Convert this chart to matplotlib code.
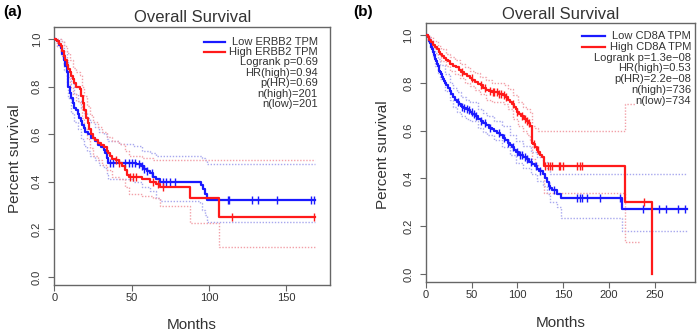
import numpy as np
import matplotlib.pyplot as plt

plt.rcParams['font.family'] = ['Liberation Sans', 'DejaVu Sans']

# ---- panel (a): ERBB2 ----
a_red_t = [0, 1, 2, 3, 4, 5, 6, 7, 8, 9, 10, 11, 12, 13, 14, 16.5, 17.5, 18.5, 19.5, 20.5, 21.5, 22.5, 23.5,
           25, 26.5, 28, 30, 32, 34, 35, 36, 37, 40, 42, 44, 46, 47, 48, 57, 62, 66, 68, 88, 106.5]
a_red_s = [1.0, 0.995, 0.99, 0.98, 0.97, 0.95, 0.93, 0.91, 0.89, 0.875, 0.86, 0.845, 0.83, 0.815, 0.80, 0.79,
           0.76, 0.73, 0.70, 0.67, 0.645, 0.62, 0.60, 0.585, 0.575, 0.565, 0.555, 0.545, 0.53, 0.52, 0.51, 0.495,
           0.49, 0.48, 0.465, 0.45, 0.43, 0.42, 0.41, 0.40, 0.39, 0.38, 0.33, 0.25]
a_red_ci_t = [0, 2, 4, 6, 8, 10, 12, 14, 16.5, 18, 19.5, 21, 23, 25, 28, 31, 34, 37, 42, 46, 48, 57, 64, 68, 88, 106.5]
a_red_hi = [1.0, 1.0, 0.99, 0.97, 0.94, 0.91, 0.88, 0.86, 0.85, 0.80, 0.76, 0.72, 0.68, 0.65, 0.63, 0.61, 0.59, 0.57,
            0.56, 0.53, 0.51, 0.50, 0.49, 0.49, 0.49, 0.49]
a_red_lo = [1.0, 0.97, 0.94, 0.89, 0.84, 0.80, 0.77, 0.74, 0.73, 0.67, 0.62, 0.58, 0.54, 0.51, 0.49, 0.47, 0.45, 0.42,
            0.41, 0.38, 0.35, 0.34, 0.33, 0.30, 0.225, 0.127]
a_red_cens = [40, 42, 49, 51, 53, 64, 67, 70, 114.7, 168]

a_blue_t = [0, 1, 2, 3, 4, 5, 6, 7, 8, 9, 10, 11, 12, 13, 14, 15, 16, 17, 18, 19, 20, 22, 24, 26, 28, 30, 32, 33,
            34, 35, 50, 53, 56, 58, 60, 62, 64, 66, 68, 94, 95, 96, 97.5, 98.5, 99]
a_blue_s = [1.0, 0.995, 0.99, 0.975, 0.96, 0.935, 0.91, 0.885, 0.86, 0.80, 0.775, 0.75, 0.73, 0.71, 0.70, 0.685,
            0.67, 0.655, 0.64, 0.625, 0.61, 0.60, 0.585, 0.57, 0.555, 0.545, 0.535, 0.52, 0.50, 0.48, 0.48, 0.475,
            0.465, 0.455, 0.445, 0.435, 0.42, 0.41, 0.40, 0.40, 0.385, 0.37, 0.35, 0.335, 0.323]
a_blue_ci_t = [0, 2, 4, 6, 8, 9, 11, 13, 15, 17, 19, 21, 23, 26, 29, 32, 34, 35, 42, 51, 57, 62, 66, 68, 94, 95.5,
               97.5, 99]
a_blue_hi = [1.0, 1.0, 0.99, 0.95, 0.91, 0.86, 0.81, 0.77, 0.74, 0.71, 0.69, 0.67, 0.65, 0.63, 0.61, 0.60, 0.58,
             0.57, 0.56, 0.55, 0.53, 0.52, 0.51, 0.51, 0.51, 0.50, 0.49, 0.475]
a_blue_lo = [1.0, 0.97, 0.93, 0.87, 0.81, 0.75, 0.69, 0.65, 0.62, 0.58, 0.55, 0.53, 0.51, 0.49, 0.47, 0.46, 0.43,
             0.41, 0.41, 0.40, 0.38, 0.36, 0.33, 0.32, 0.31, 0.28, 0.26, 0.232]
a_blue_cens = [36, 38, 46, 48, 50, 52, 55, 57, 58, 60, 63, 70, 72, 75, 78, 112, 113, 127.5, 131.5, 144, 166, 168]
a_end = 168.5
a_text = ['Logrank p=0.69', 'HR(high)=0.94', 'p(HR)=0.69', 'n(high)=201', 'n(low)=201']

# ---- panel (b): CD8A ----
b_red_t = [0, 2, 4, 6, 8, 10, 12, 14, 16, 18, 20, 22, 24, 27, 30, 33, 36, 39, 42, 45, 48, 51, 54, 57, 60, 63, 66,
           69, 72, 80, 84, 87, 90, 92, 94, 96, 98, 100, 102, 104, 107, 110, 112, 114, 115.5, 117, 119, 121, 123,
           125, 126.5, 129, 217, 246.5]
b_red_s = [1.0, 0.99, 0.98, 0.97, 0.96, 0.95, 0.94, 0.93, 0.92, 0.912, 0.905, 0.897, 0.89, 0.88, 0.872, 0.865,
           0.855, 0.847, 0.838, 0.83, 0.82, 0.812, 0.805, 0.797, 0.79, 0.78, 0.77, 0.765, 0.76, 0.755, 0.75, 0.74,
           0.73, 0.72, 0.71, 0.70, 0.69, 0.68, 0.67, 0.66, 0.65, 0.64, 0.63, 0.62, 0.55, 0.545, 0.53, 0.52, 0.51,
           0.50, 0.49, 0.45, 0.30, 0.0]
b_red_ci_t = [0, 4, 8, 13, 17, 22, 27, 32, 37, 43, 48, 54, 59, 66, 72, 77, 85, 90, 95, 101, 106, 110, 114, 115.5,
              119, 123, 126.5, 129, 217, 233, 246.5]
b_red_hi = [1.0, 0.99, 0.975, 0.955, 0.94, 0.92, 0.91, 0.895, 0.88, 0.865, 0.85, 0.84, 0.825, 0.81, 0.80, 0.80,
            0.79, 0.775, 0.75, 0.72, 0.70, 0.69, 0.68, 0.62, 0.61, 0.60, 0.60, 0.60, 0.71, 0.71, np.nan]
b_red_lo = [1.0, 0.97, 0.945, 0.915, 0.89, 0.87, 0.85, 0.835, 0.82, 0.80, 0.785, 0.77, 0.755, 0.73, 0.72, 0.72,
            0.71, 0.69, 0.65, 0.62, 0.60, 0.58, 0.56, 0.48, 0.46, 0.44, 0.42, 0.34, 0.135, np.nan, np.nan]
b_red_cens = [40, 50, 60, 65, 70, 73, 75, 78, 80, 82, 85, 88, 95, 100, 105, 108, 110, 113, 118, 122, 130, 133,
              136, 138, 145, 147, 150, 165, 168, 170, 238]

b_blue_t = [0, 2, 4, 5, 6, 7, 8, 9, 10, 11, 12, 13, 14, 15, 16, 17, 18, 19, 20, 21, 22, 24, 26, 28, 30, 32, 34,
            36, 38, 40, 42, 44, 46, 48, 51, 54, 57, 60, 63, 66, 69, 72, 75, 78, 81, 84, 87, 90, 92, 94, 96, 99,
            102, 106, 110, 113, 116, 119, 121, 124, 128, 130, 132, 134, 135.5, 138, 143, 148, 213.7]
b_blue_s = [1.0, 0.99, 0.975, 0.965, 0.95, 0.94, 0.93, 0.915, 0.90, 0.89, 0.88, 0.87, 0.86, 0.85, 0.845, 0.835,
            0.825, 0.815, 0.808, 0.80, 0.793, 0.78, 0.765, 0.752, 0.74, 0.73, 0.72, 0.71, 0.703, 0.70, 0.695, 0.69,
            0.685, 0.68, 0.67, 0.66, 0.65, 0.64, 0.632, 0.622, 0.612, 0.605, 0.598, 0.59, 0.58, 0.57, 0.56, 0.548,
            0.54, 0.53, 0.52, 0.51, 0.50, 0.49, 0.48, 0.47, 0.46, 0.45, 0.44, 0.43, 0.42, 0.40, 0.385, 0.37, 0.36,
            0.35, 0.335, 0.317, 0.272]
b_blue_ci_t = [0, 3, 5, 8, 10, 13, 16, 21, 26, 30, 34, 39, 44, 48, 57, 62, 67, 74, 83, 92, 99, 106, 115, 121,
               128, 132, 135.5, 143, 148, 213.7]
b_blue_hi = [1.0, 0.99, 0.98, 0.955, 0.925, 0.90, 0.875, 0.835, 0.80, 0.78, 0.76, 0.74, 0.73, 0.72, 0.69, 0.675,
             0.66, 0.64, 0.62, 0.58, 0.555, 0.535, 0.51, 0.49, 0.47, 0.445, 0.42, 0.42, 0.42, 0.42]
b_blue_lo = [1.0, 0.97, 0.95, 0.905, 0.87, 0.84, 0.815, 0.765, 0.73, 0.70, 0.68, 0.66, 0.65, 0.64, 0.61, 0.595,
             0.58, 0.56, 0.53, 0.50, 0.465, 0.445, 0.42, 0.39, 0.37, 0.335, 0.30, 0.28, 0.233, 0.18]
b_blue_cens = [35, 40, 42, 45, 47, 50, 53, 55, 60, 65, 70, 80, 85, 90, 95, 100, 103, 105, 108, 110, 115, 120,
               125, 135, 140, 165, 168, 171, 176, 190, 212, 237, 255, 262, 275, 283]
b_end = 284.5
b_text = ['Logrank p=1.3e\u221208', 'HR(high)=0.53', 'p(HR)=2.2e\u221208', 'n(high)=736', 'n(low)=734']

RED = '#ff1a1a'
BLUE = '#1a1aff'
LRED = '#f2a0a8'
LBLUE = '#a8a8ee'
GRID = '#666666'
TXT = '#333333'


def stepline(ax, t, s, end, **kw):
    t = list(t) + [end]
    s = list(s) + [s[-1]]
    ax.step(t, s, where='post', **kw)


def km(ax, t, s, ci_t, hi, lo, cens, end, col, lcol):
    stepline(ax, ci_t, hi, end, color=lcol, lw=1, ls=(0, (1, 1.2)))
    stepline(ax, ci_t, lo, end, color=lcol, lw=1, ls=(0, (1, 1.2)))
    stepline(ax, t, s, t[-1] if s[-1] == 0 else end, color=col, lw=1.6, zorder=3)
    idx = np.searchsorted(t, cens, side='right') - 1
    ax.plot(cens, np.array(s)[idx], ls='none', marker='|', ms=5.5, mew=1,
            color=col, zorder=3)


fig = plt.figure(figsize=(7, 3.36), dpi=100)
axa = fig.add_axes([0.0776, 0.1518, 0.3938, 0.7679])
axb = fig.add_axes([0.6081, 0.1607, 0.3847, 0.7708])

km(axa, a_blue_t, a_blue_s, a_blue_ci_t, a_blue_hi, a_blue_lo, a_blue_cens, a_end, BLUE, LBLUE)
km(axa, a_red_t, a_red_s, a_red_ci_t, a_red_hi, a_red_lo, a_red_cens, a_end, RED, LRED)
km(axb, b_blue_t, b_blue_s, b_blue_ci_t, b_blue_hi, b_blue_lo, b_blue_cens, b_end, BLUE, LBLUE)
km(axb, b_red_t, b_red_s, b_red_ci_t, b_red_hi, b_red_lo, b_red_cens, b_end, RED, LRED)

axa.set_xlim(0, 178.2)
axb.set_xlim(0, 293.7)
axa.set_xticks([0, 50, 100, 150])
axb.set_xticks([0, 50, 100, 150, 200, 250])

setup = [
    (axa, 'Low ERBB2 TPM', 'High ERBB2 TPM', a_text, 0.955, 0.943, 0.0403, 0.543, 0.620, 0.035, -0.1425, -0.155),
    (axb, 'Low CD8A TPM', 'High CD8A TPM', b_text, 0.985, 0.950, 0.0417, 0.580, 0.666, 0.031, -0.157, -0.158),
]
for ax, low, high, stats, xr, y0, dy, lx0, lx1, ty, ylx, xly in setup:
    ax.set_ylim(-0.0336, 1.0504)
    ax.set_yticks([0.0, 0.2, 0.4, 0.6, 0.8, 1.0])
    ax.set_yticklabels(['0.0', '0.2', '0.4', '0.6', '0.8', '1.0'], rotation=90, va='center')
    for sp in ax.spines.values():
        sp.set_color(GRID)
        sp.set_linewidth(1)
    ax.tick_params(axis='both', direction='out', length=4.5, width=0.8, color=GRID,
                   labelcolor=TXT, labelsize=8)
    ax.tick_params(axis='y', pad=4.5)
    ax.tick_params(axis='x', pad=1)
    ax.text(0.5, 1 + ty, 'Overall Survival', transform=ax.transAxes, ha='center',
            va='center', fontsize=12, color=TXT)
    ax.text(ylx, 0.49, 'Percent survival', transform=ax.transAxes, rotation=90,
            ha='center', va='center', fontsize=11, color=TXT)
    ax.text(0.5, xly, 'Months', transform=ax.transAxes, ha='center', va='center',
            fontsize=11, color=TXT)
    lines = [low, high] + stats
    for i, s in enumerate(lines):
        ax.text(xr, y0 - i * dy, s, transform=ax.transAxes, ha='right', va='center',
                fontsize=8, color=TXT, zorder=5,
                bbox=dict(facecolor='white', edgecolor='none', pad=0.3))
    ax.plot([lx0, lx1], [y0, y0], color=BLUE, lw=1.6, transform=ax.transAxes, zorder=5)
    ax.plot([lx0, lx1], [y0 - dy, y0 - dy], color=RED, lw=1.6, transform=ax.transAxes, zorder=5)

fig.text(0.005, 0.985, '(a)', fontsize=11, fontweight='bold', va='top', ha='left')
fig.text(0.505, 0.985, '(b)', fontsize=11, fontweight='bold', va='top', ha='left')

fig.savefig('out.png', dpi=100)
